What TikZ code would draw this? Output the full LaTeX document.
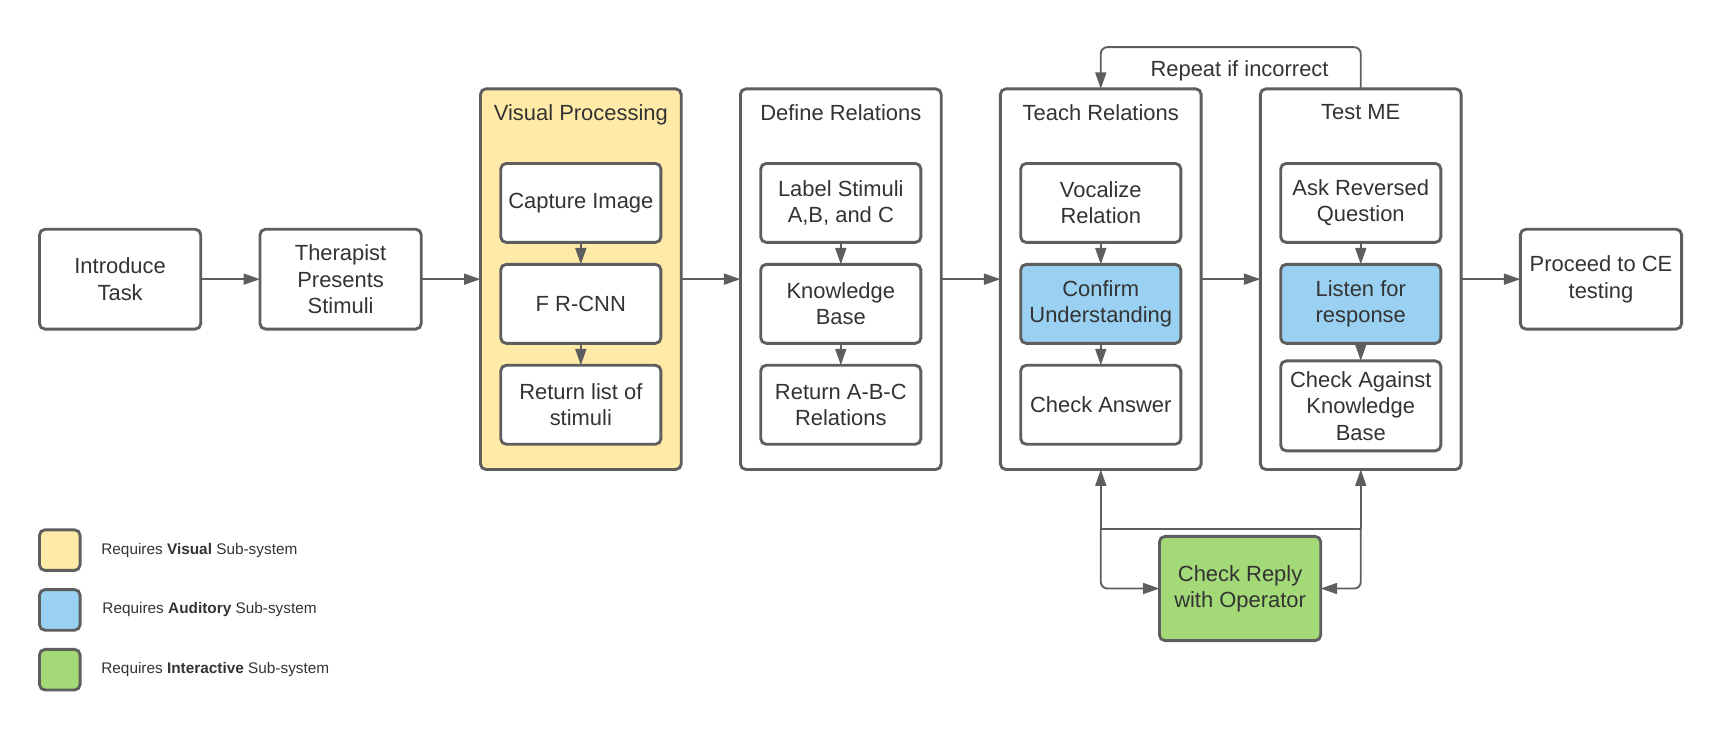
\documentclass[tikz,border=0pt]{standalone}
\usepackage{fontspec}
\setmainfont{Liberation Sans}
\usetikzlibrary{positioning,arrows.meta}
\definecolor{linegray}{HTML}{5E5E5E}
\definecolor{textgray}{HTML}{333333}
\definecolor{visfill}{HTML}{FFEAA7}
\definecolor{audfill}{HTML}{9AD1F2}
\definecolor{intfill}{HTML}{A3D977}
\tikzset{
  box/.style={draw=linegray, line width=1.3pt, rounded corners=2.5pt, fill=white, text=textgray, minimum width=73pt, minimum height=36pt, font=\fontsize{10}{12}\selectfont, align=center, inner sep=2pt, outer sep=0pt},
  big/.style={box, minimum width=73.5pt, minimum height=45.5pt},
  grp/.style={box, minimum width=91.5pt, minimum height=173.5pt},
  ttl/.style={text=textgray, font=\fontsize{10}{12}\selectfont, inner sep=0pt},
  flow/.style={-{Triangle[length=7.5pt,width=5pt]}, line width=0.85pt, draw=linegray},
  key/.style={draw=linegray, line width=1.3pt, rounded corners=2.5pt, minimum size=18.5pt, inner sep=0pt, outer sep=0pt},
  keytxt/.style={text=textgray, font=\fontsize{7}{8.5}\selectfont, inner sep=0pt},
}
\begin{document}
\begin{tikzpicture}
\useasboundingbox (0,0) rectangle (784pt,-337pt);
\node[big] (intro) at (54.75pt,-127.25pt) {Introduce\\Task};
\node[big, right=27pt of intro] (ther) {Therapist\\Presents\\Stimuli};
\node[grp, fill=visfill, right=27pt of ther] (vis) {};
\node[grp, right=27pt of vis] (def) {};
\node[grp, right=27pt of def] (teach) {};
\node[grp, right=27pt of teach] (test) {};
\node[big, right=27pt of test] (ce) {Proceed to CE\\testing};

\node[ttl, below=7pt of vis.north] {Visual Processing};
\node[box, below=34pt of vis.north] (cap) {Capture Image};
\node[box, below=10pt of cap] (rcnn) {F R-CNN};
\node[box, below=10pt of rcnn] (lst) {Return list of\\stimuli};

\node[ttl, below=7pt of def.north] {Define Relations};
\node[box, below=34pt of def.north] (lbl) {Label Stimuli\\A,B, and C};
\node[box, below=10pt of lbl] (kb) {Knowledge\\Base};
\node[box, below=10pt of kb] (rel) {Return A-B-C\\Relations};

\node[ttl, below=7pt of teach.north] {Teach Relations};
\node[box, below=34pt of teach.north] (voc) {Vocalize\\Relation};
\node[box, fill=audfill, below=10pt of voc] (conf) {Confirm\\Understanding};
\node[box, below=10pt of conf] (ans) {Check Answer};

\node[ttl, below=7pt of test.north] {Test ME};
\node[box, below=34pt of test.north] (ask) {Ask Reversed\\Question};
\node[box, fill=audfill, below=10pt of ask] (lis) {Listen for\\response};
\node[box, minimum height=41pt, below=8pt of lis] (ckb) {Check Against\\Knowledge\\Base};

\node[box, fill=intfill, minimum width=73.5pt, minimum height=47.5pt] (op) at (565.25pt,-268.25pt) {Check Reply\\with Operator};

\draw[flow] (intro) -- (ther);
\draw[flow] (ther) -- (vis);
\draw[flow] (vis) -- (def);
\draw[flow] (def) -- (teach);
\draw[flow] (teach) -- (test);
\draw[flow] (test) -- (ce);

\draw[flow] (cap) -- (rcnn);
\draw[flow] (rcnn) -- (lst);
\draw[flow] (lbl) -- (kb);
\draw[flow] (kb) -- (rel);
\draw[flow] (voc) -- (conf);
\draw[flow] (conf) -- (ans);
\draw[flow] (ask) -- (lis);
\draw[flow] (lis) -- (ckb);

\draw[flow, rounded corners=3pt] (test.north) -- ++(0,19pt) -| (teach.north);
\path (teach.north) -- (test.north) node[ttl, midway, above=3.5pt, xshift=4pt] {Repeat if incorrect};

\coordinate (jl) at ([yshift=3.5pt]op.north -| teach.south);
\coordinate (jr) at ([yshift=3.5pt]op.north -| test.south);
\draw[line width=0.85pt, draw=linegray] (jl) -- (jr);
\draw[flow] (jl) -- (teach.south);
\draw[flow] (jr) -- (test.south);
\draw[flow, rounded corners=3pt] (jl) |- (op.west);
\draw[flow, rounded corners=3pt] (jr) |- (op.east);

\node[key, fill=visfill] (kv) at (27.25pt,-250.75pt) {};
\node[key, fill=audfill, below=8.75pt of kv] (ka) {};
\node[key, fill=intfill, below=8.75pt of ka] (ki) {};
\node[keytxt, right=9.5pt of kv] {Requires \textbf{Visual} Sub-system};
\node[keytxt, right=10pt of ka] {Requires \textbf{Auditory} Sub-system};
\node[keytxt, right=9.5pt of ki] {Requires \textbf{Interactive} Sub-system};
\end{tikzpicture}
\end{document}
